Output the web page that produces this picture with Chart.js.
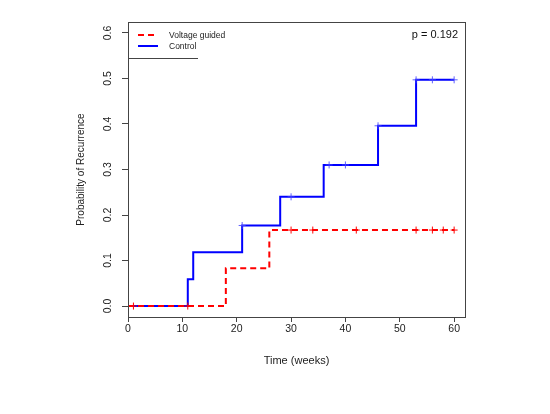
<!DOCTYPE html>
<html lang="en">
<head>
  <meta charset="UTF-8">
  <title>Probability of Recurrence</title>
  <script src="https://cdn.jsdelivr.net/npm/chart.js"></script>
  <style>
    html, body { margin: 0; padding: 0; background: #fff; }
    #wrap { width: 550px; height: 414px; }
  </style>
</head>
<body>
<div id="wrap"><canvas id="kmChart" width="550" height="414"></canvas></div>
<script>
// Step curves: time of each jump and the value after the jump
const voltageTimes = [0, 18, 26, 60];
const voltageProb = [0, 0.083, 0.167, 0.167];
const controlTimes = [0, 11, 12, 21, 28, 36, 46, 53, 60];
const controlProb = [0, 0.059, 0.118, 0.177, 0.24, 0.31, 0.396, 0.497, 0.497];

// Censored observations (+ marks)
const voltageCensorTimes = [1, 11, 30, 34, 42, 53, 56, 58, 60];
const voltageCensorProb = [0, 0, 0.167, 0.167, 0.167, 0.167, 0.167, 0.167, 0.167];
const controlCensorTimes = [21, 30, 37, 40, 46, 53, 56, 60];
const controlCensorProb = [0.177, 0.24, 0.31, 0.31, 0.396, 0.497, 0.497, 0.497];

const xTicks = [0, 10, 20, 30, 40, 50, 60];
const yTicks = [0, 0.1, 0.2, 0.3, 0.4, 0.5, 0.6];
const seriesNames = ['Voltage guided', 'Control'];
const pValueText = 'p = 0.192';

const RED = '#ff0000';
const BLUE = '#0000ff';
const AXIS = '#444';
const FONT = 'Arial, "Liberation Sans", sans-serif';

const toXY = (xs, ys) => xs.map((x, i) => ({ x: x, y: ys[i] }));

// box, rotated y labels, legend and p value
const extras = {
  id: 'extras',
  afterDraw(chart) {
    const ctx = chart.ctx;
    const a = chart.chartArea;
    const ys = chart.scales.y;
    ctx.save();
    ctx.strokeStyle = AXIS;
    ctx.lineWidth = 1;
    ctx.strokeRect(a.left + 0.5, a.top + 0.5, a.right - a.left, a.bottom - a.top);

    // y tick labels, rotated like R
    ctx.fillStyle = '#222';
    ctx.font = '10.5px ' + FONT;
    ctx.textAlign = 'center';
    ctx.textBaseline = 'middle';
    yTicks.forEach(v => {
      const py = ys.getPixelForValue(v);
      ctx.save();
      ctx.translate(108, py);
      ctx.rotate(-Math.PI / 2);
      ctx.fillText(v.toFixed(1), 0, 0);
      ctx.restore();
    });

    // y title
    ctx.save();
    ctx.font = '10px ' + FONT;
    ctx.translate(81, (a.top + a.bottom) / 2);
    ctx.rotate(-Math.PI / 2);
    ctx.fillText('Probability of Recurrence', 0, 0);
    ctx.restore();

    // legend
    const lx = a.left;
    ctx.lineWidth = 2;
    ctx.strokeStyle = RED;
    ctx.setLineDash([6, 4]);
    ctx.beginPath(); ctx.moveTo(lx + 10, 35); ctx.lineTo(lx + 30, 35); ctx.stroke();
    ctx.setLineDash([]);
    ctx.strokeStyle = BLUE;
    ctx.beginPath(); ctx.moveTo(lx + 10, 46); ctx.lineTo(lx + 30, 46); ctx.stroke();
    ctx.font = '8.5px ' + FONT;
    ctx.textAlign = 'left';
    ctx.fillStyle = '#222';
    ctx.fillText(seriesNames[0], lx + 41, 35.5);
    ctx.fillText(seriesNames[1], lx + 41, 46.5);
    ctx.lineWidth = 1;
    ctx.strokeStyle = AXIS;
    ctx.beginPath(); ctx.moveTo(lx, 58.5); ctx.lineTo(lx + 70, 58.5); ctx.stroke();

    // p value
    ctx.font = '11px ' + FONT;
    ctx.textAlign = 'right';
    ctx.fillStyle = '#111';
    ctx.fillText(pValueText, a.right - 7, 35);
    ctx.restore();
  }
};

new Chart(document.getElementById('kmChart'), {
  type: 'line',
  data: {
    datasets: [
      {
        label: seriesNames[0],
        data: toXY(voltageTimes, voltageProb),
        borderColor: RED,
        borderWidth: 2,
        borderDash: [6, 4],
        stepped: 'before',
        pointRadius: 0,
        fill: false,
        order: 1
      },
      {
        label: seriesNames[1],
        data: toXY(controlTimes, controlProb),
        borderColor: BLUE,
        borderWidth: 2,
        stepped: 'before',
        pointRadius: 0,
        fill: false,
        order: 3
      },
      {
        label: 'Voltage censored',
        data: toXY(voltageCensorTimes, voltageCensorProb),
        showLine: false,
        pointStyle: 'cross',
        pointRadius: 3.5,
        pointBorderWidth: 1,
        pointBorderColor: RED,
        order: 0
      },
      {
        label: 'Control censored',
        data: toXY(controlCensorTimes, controlCensorProb),
        showLine: false,
        pointStyle: 'cross',
        pointRadius: 3.5,
        pointBorderWidth: 1,
        pointBorderColor: 'rgba(70,70,255,0.85)',
        order: 2
      }
    ]
  },
  options: {
    responsive: false,
    animation: false,
    layout: { padding: { top: 22, right: 85, left: 0, bottom: 0 } },
    plugins: { legend: { display: false }, tooltip: { enabled: false } },
    scales: {
      x: {
        type: 'linear',
        min: 0,
        max: 62,
        afterFit: s => { s.height = 97; },
        afterBuildTicks: s => { s.ticks = xTicks.map(v => ({ value: v })); },
        grid: { drawOnChartArea: false, drawTicks: true, tickLength: 5, color: AXIS },
        border: { color: AXIS },
        ticks: { color: '#222', font: { size: 10.5, family: FONT }, padding: 1, maxRotation: 0 },
        title: { display: true, text: 'Time (weeks)', color: '#222', font: { size: 11, family: FONT }, padding: { top: 0, bottom: 46 } }
      },
      y: {
        min: -0.024,
        max: 0.624,
        afterFit: s => { s.width = 128; },
        afterBuildTicks: s => { s.ticks = yTicks.map(v => ({ value: v })); },
        grid: { drawOnChartArea: false, drawTicks: true, tickLength: 6, color: AXIS },
        border: { color: AXIS },
        ticks: { display: false }
      }
    }
  },
  plugins: [extras]
});
</script>
</body>
</html>
